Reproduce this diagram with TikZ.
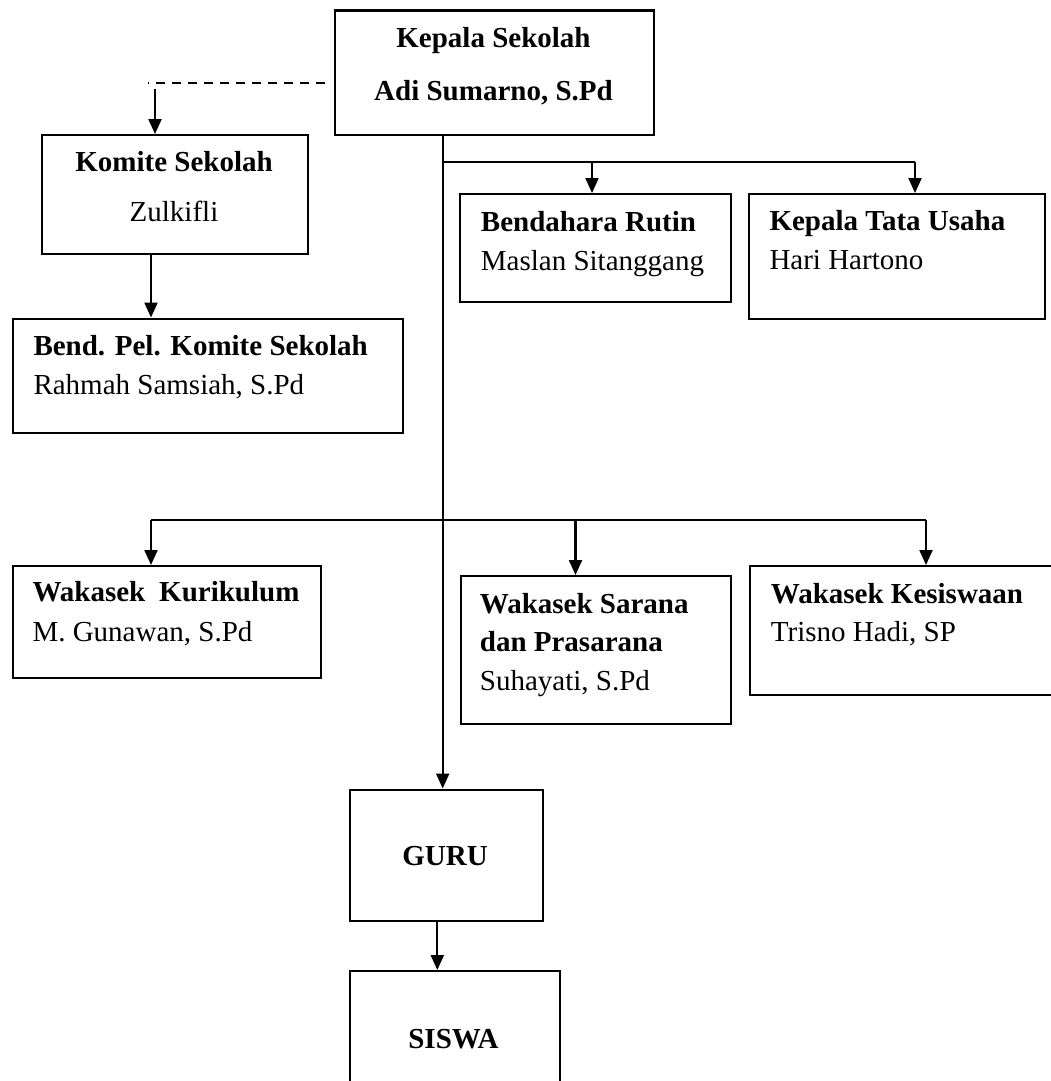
\documentclass[tikz,border=0pt]{standalone}
\usepackage{fontspec}
\setmainfont{Liberation Serif}
\usetikzlibrary{arrows.meta}
\begin{document}
\begin{tikzpicture}[x=1pt,y=-1pt,
  box/.style={draw,line width=2.2pt,rectangle,inner sep=0pt,anchor=north west},
  lbl/.style={inner sep=0pt,font=\fontsize{29}{35}\selectfont},
  blbl/.style={lbl,font=\fontsize{29}{35}\selectfont\bfseries},
  conn/.style={line width=2.2pt},
  arr/.style={line width=2.2pt,-{Triangle[length=15pt,width=13pt]}},
  dsh/.style={line width=1.8pt,dash pattern=on 9pt off 7pt}]
\useasboundingbox (0,0) rectangle (1051,1081);
% boxes
\node[box,minimum width=319pt,minimum height=124.5pt] (kepala) at (334,9.5) {};
\node[box,minimum width=266pt,minimum height=118.5pt] (komite) at (41,134) {};
\node[box,minimum width=390pt,minimum height=114.5pt] (bend) at (12,317.5) {};
\node[box,minimum width=270.5pt,minimum height=108pt] (bendahara) at (459,193) {};
\node[box,minimum width=295.5pt,minimum height=125pt] (ktu) at (748,193) {};
\node[box,minimum width=308pt,minimum height=112pt] (kurikulum) at (12,565) {};
\node[box,minimum width=270pt,minimum height=148pt] (sarana) at (459.5,575) {};
\node[box,minimum width=320pt,minimum height=128.5pt] (kesiswaan) at (748.5,565) {};
\node[box,minimum width=192.5pt,minimum height=131pt] (guru) at (349,788.5) {};
\node[box,minimum width=209.5pt,minimum height=130pt] (siswa) at (349,970) {};
% texts
\node[blbl,anchor=base] (t1) at (493.5,48) {Kepala Sekolah};
\node[blbl,anchor=base] (t2) at (493.5,100) {Adi Sumarno, S.Pd};
\node[blbl,anchor=base] (t3) at (174,171.7) {Komite Sekolah};
\node[lbl,anchor=base] (t4) at (174,221.7) {Zulkifli};
\node[blbl,anchor=base west] (t5) at (33.3,355) {Bend. Pel. Komite Sekolah};
\node[lbl,anchor=base west] (t6) at (33.3,394.3) {Rahmah Samsiah, S.Pd};
\node[blbl,anchor=base west] (t7) at (480.7,231.7) {Bendahara Rutin};
\node[lbl,anchor=base west] (t8) at (480.7,270) {Maslan Sitanggang};
\node[blbl,anchor=base west] (t9) at (769.3,230.7) {Kepala Tata Usaha};
\node[lbl,anchor=base west] (t10) at (769.3,269.3) {Hari Hartono};
\node[blbl,anchor=base west] (t11) at (32.3,601.7) {Wakasek\hspace{0.48em}Kurikulum};
\node[lbl,anchor=base west] (t12) at (32.3,641.7) {M. Gunawan, S.Pd};
\node[blbl,anchor=base west] (t13) at (479.7,613.3) {Wakasek Sarana};
\node[blbl,anchor=base west] (t14) at (479.7,651.7) {dan Prasarana};
\node[lbl,anchor=base west] (t15) at (479.7,690) {Suhayati, S.Pd};
\node[blbl,anchor=base west] (t16) at (770.7,603.3) {Wakasek Kesiswaan};
\node[lbl,anchor=base west] (t17) at (770.7,641.7) {Trisno Hadi, SP};
\node[blbl,anchor=base] (t18) at (445,865.7) {GURU};
\node[blbl,anchor=base] (t19) at (453.5,1048.3) {SISWA};
% coordinates
\coordinate (dl) at (148,83.3);
\coordinate (dr) at (325,83.3);
\coordinate (ka) at (155,89);
\coordinate (kb) at (151,0);
\coordinate (mx) at (442.7,0);
\coordinate (h1) at (442.7,162);
\coordinate (h1r) at (915,162);
\coordinate (h1m) at (592,162);
\coordinate (h2l) at (151,520);
\coordinate (h2m) at (575.5,520);
\coordinate (h2r) at (926,520);
\coordinate (gx) at (437.3,0);
% connectors
\draw[dsh] (dr) -- (dl);
\draw[arr] (ka) -- (ka |- komite.north);
\draw[arr] (komite.south -| kb) -- (bend.north -| kb);
\draw[arr] (kepala.south -| mx) -- (guru.north -| mx);
\draw[conn] (h1) -- (h1r);
\draw[arr] (h1m) -- (h1m |- bendahara.north);
\draw[arr] (h1r) -- (h1r |- ktu.north);
\draw[conn] (h2l) -- (h2r);
\draw[arr] (h2l) -- (h2l |- kurikulum.north);
\draw[arr] (h2m) -- (h2m |- sarana.north);
\draw[arr] (h2r) -- (h2r |- kesiswaan.north);
\draw[arr] (guru.south -| gx) -- (siswa.north -| gx);
\end{tikzpicture}
\end{document}
